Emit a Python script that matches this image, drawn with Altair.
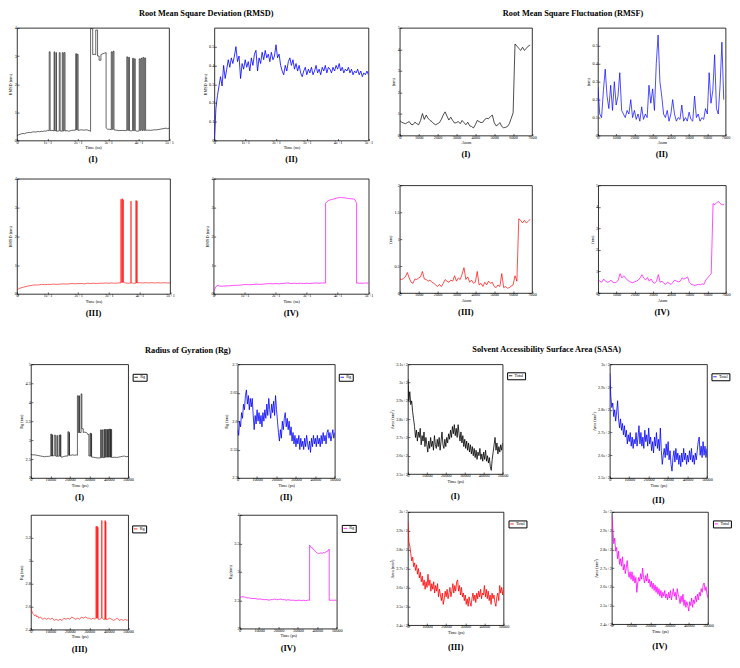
import altair as alt
import numpy as np
import pandas as pd

FONT = "Liberation Serif"
BLACK, BLUE, RED, MAGENTA = "#000000", "#0000ff", "#ff0000", "#ff00ff"

# ---------------- RMSD (time in ns, value in nm) ----------------
RMSD1 = [(0,0.18),(0.5,0.2),(1,0.22),(1.5,0.24),(2,0.25),(2.5,0.24),(3,0.27),(3.5,0.28),(4,0.29),(4.5,0.28),(5,0.3),(5.5,0.31),(6,0.3),(6.5,0.31),(7,0.32),(7.5,0.31),(8,0.33),(8.5,0.32),(9,0.34),(9.5,0.33),(10,0.36),(10.6,0.35),
(10.6,3.15),(10.9,3.15),(10.9,0.35),(11.5,0.36),(12.2,0.34),(12.2,3.15),(12.4,3.15),(12.4,0.35),(12.8,0.35),(12.8,3.12),(13.0,3.12),(13.0,0.33),(13.9,0.34),(13.9,3.12),(14.2,3.12),(14.2,0.34),(14.9,0.33),(14.9,3.12),(15.2,3.12),(15.2,0.34),(15.5,0.34),(15.5,3.12),(15.8,3.12),(15.8,0.34),(16.5,0.35),(17,0.33),(18,0.36),(19.3,0.37),(19.3,3.08),(19.6,3.08),(19.6,0.38),(19.8,0.38),(19.8,3.06),(20.1,3.06),(20.1,0.36),(21,0.38),(22,0.37),(23,0.38),(24.2,0.33),
(24.2,3.97),(24.9,3.97),(24.9,3.05),(25.5,3.06),(25.9,3.05),(25.9,3.92),(26.5,3.92),(26.5,3.0),(27.0,3.0),(27.0,2.85),(27.6,2.85),(27.6,3.05),(28.2,3.08),(28.8,3.1),(29.3,3.12),(29.3,0.45),(29.8,0.4),(30.5,0.4),(31.0,0.38),(31.0,3.15),(31.3,3.15),(31.3,0.4),(31.6,0.4),(31.6,3.17),(31.9,3.17),(31.9,0.38),(32.5,0.37),(33.5,0.35),(34.5,0.36),(35.5,0.35),
(36.1,0.36),(36.1,2.97),(36.4,2.97),(36.4,0.36),(36.7,0.36),(36.7,2.95),(37.0,2.95),(37.0,0.35),(37.5,0.34),(38.0,0.35),(38.0,2.92),(38.3,2.92),(38.3,0.35),(38.6,0.35),(38.6,2.9),(38.9,2.9),(38.9,0.35),(39.5,0.33),(40.2,0.34),(40.2,2.9),(40.5,2.9),(40.5,0.36),(40.8,0.36),(40.8,2.92),(41.1,2.92),(41.1,0.36),(41.4,0.36),(41.4,2.95),(41.7,2.95),(41.7,0.36),(42.0,0.36),(42.0,2.93),(42.3,2.93),(42.3,0.36),(43,0.37),(44,0.36),(45,0.38),(46,0.38),(47,0.4),(48,0.42),(49,0.44),(49.5,0.42),(50,0.44)]

RMSD2 = [0.00,0.17,0.24,0.29,0.34,0.29,0.40,0.33,0.38,0.43,
         0.39,0.44,0.41,0.45,0.50,0.42,0.45,0.33,0.41,0.38,
         0.43,0.39,0.42,0.37,0.44,0.40,0.46,0.48,0.37,0.44,
         0.41,0.47,0.43,0.48,0.44,0.46,0.42,0.47,0.43,0.45,
         0.51,0.44,0.46,0.40,0.37,0.35,0.40,0.37,0.42,0.44,
         0.40,0.43,0.38,0.41,0.37,0.40,0.36,0.34,0.37,0.39,
         0.35,0.38,0.36,0.39,0.35,0.37,0.40,0.36,0.38,0.35,
         0.39,0.37,0.40,0.36,0.39,0.38,0.36,0.39,0.37,0.40,
         0.38,0.41,0.37,0.39,0.36,0.38,0.37,0.39,0.36,0.38,
         0.35,0.37,0.36,0.38,0.35,0.37,0.34,0.36,0.35,0.37,
         0.35]

RMSD3 = [(0,0.12),(0.5,0.18),(1,0.2),(2,0.23),(3,0.26),(4,0.28),(5,0.3),(6,0.31),(7,0.31),(8,0.33),(9,0.32),(10,0.33),(11,0.33),(12,0.34),(13,0.33),(14,0.34),(15,0.35),(16,0.34),(17,0.35),(18,0.36),(19,0.35),(20,0.36),(21,0.36),(22,0.35),(23,0.37),(24,0.36),(25,0.37),(26,0.36),(27,0.37),(28,0.37),(29,0.38),(30,0.37),(31,0.38),(32,0.37),(33,0.38),
(33.9,0.38),(33.9,3.28),(34.1,3.28),(34.1,0.4),(34.3,0.4),(34.3,3.3),(34.5,3.3),(34.5,0.4),(34.6,0.4),(34.6,3.28),(34.8,3.26),(34.8,0.4),(35.5,0.38),(36.5,0.37),(37.2,0.38),(37.2,3.22),(37.3,3.22),(37.3,0.38),(38,0.37),(38.8,0.37),(38.8,3.24),(39.0,3.24),(39.0,0.38),(39.1,0.38),(39.1,3.22),(39.3,3.22),(39.3,0.38),
(40,0.39),(41,0.38),(42,0.39),(43,0.38),(44,0.39),(45,0.38),(46,0.39),(47,0.38),(48,0.39),(49,0.38),(50,0.38)]

RMSD4 = [(0,0.08),(0.5,0.2),(1,0.28),(1.5,0.3),(2,0.27),(3,0.27),(4,0.28),(5,0.28),(6,0.29),(7,0.3),(8,0.3),(9,0.31),(10,0.33),(11,0.32),(12,0.32),(13,0.33),(14,0.34),(15,0.33),(16,0.34),(17,0.35),(18,0.36),(19,0.35),(20,0.36),(21,0.35),(22,0.36),(23,0.37),(24,0.38),(25,0.36),(26,0.37),(27,0.36),(28,0.37),(29,0.36),(30,0.37),(31,0.36),(32,0.37),(33,0.38),(34,0.37),(35,0.38),
(36.1,0.38),(36.1,3.15),(36.5,3.2),(37,3.24),(37.5,3.26),(38,3.28),(38.5,3.29),(39,3.3),(39.5,3.32),(40,3.33),(40.5,3.35),(41,3.35),(41.5,3.34),(42,3.34),(42.5,3.33),(43,3.32),(43.5,3.31),(44,3.31),(44.5,3.3),(45,3.3),(45.5,3.28),(45.9,3.2),(46.1,3.15),
(46.1,0.37),(46.5,0.38),(47,0.37),(48,0.37),(49,0.38),(50,0.37)]

# ---------------- RMSF (atoms 0..6900 every 100, nm) ----------------
RMSF1 = [0.70,0.62,0.58,0.55,0.60,0.65,0.52,0.50,0.62,0.55,
         0.50,0.70,1.02,0.75,0.95,0.80,0.70,0.65,0.55,0.50,
         0.55,0.60,0.75,0.95,1.10,0.90,0.72,0.85,0.70,0.58,
         0.60,0.65,0.55,0.70,0.60,0.50,0.62,0.45,0.42,0.35,
         0.50,0.70,0.65,0.60,0.62,0.75,0.80,0.78,0.88,0.95,
         0.60,0.45,0.50,0.60,0.42,0.36,0.38,0.42,0.55,0.80,
         1.05,4.25,4.15,4.05,3.95,4.10,3.95,4.05,4.15,4.20]
RMSF2 = [0.27,0.12,0.10,0.25,0.37,0.22,0.15,0.28,0.14,0.30,
         0.17,0.22,0.35,0.14,0.12,0.10,0.14,0.12,0.20,0.10,
         0.14,0.09,0.12,0.08,0.16,0.09,0.12,0.10,0.28,0.18,
         0.26,0.14,0.40,0.56,0.30,0.22,0.12,0.10,0.14,0.08,
         0.12,0.20,0.12,0.08,0.10,0.09,0.17,0.08,0.10,0.08,
         0.13,0.09,0.08,0.22,0.10,0.12,0.08,0.10,0.09,0.15,
         0.12,0.35,0.18,0.25,0.45,0.15,0.12,0.28,0.52,0.20]
RMSF3 = [0.26,0.25,0.27,0.30,0.38,0.28,0.20,0.18,0.26,0.25,
         0.28,0.30,0.40,0.26,0.25,0.22,0.24,0.20,0.18,0.15,
         0.12,0.16,0.12,0.18,0.25,0.22,0.20,0.24,0.22,0.32,
         0.22,0.28,0.25,0.35,0.47,0.25,0.30,0.20,0.24,0.18,
         0.20,0.40,0.15,0.18,0.12,0.20,0.15,0.22,0.18,0.20,
         0.12,0.10,0.15,0.12,0.36,0.10,0.12,0.09,0.10,0.13,
         0.15,0.32,0.22,1.38,1.35,1.30,1.35,1.30,1.33,1.37]
RMSF4 = [0.60,0.55,0.50,0.65,0.55,0.50,0.52,0.60,0.50,0.48,
         0.50,0.60,0.90,0.70,0.80,0.70,0.60,0.55,0.50,0.48,
         0.52,0.55,0.60,0.70,0.85,0.70,0.60,0.72,0.55,0.65,
         0.50,0.45,0.55,0.85,0.50,0.55,0.45,0.40,0.50,0.45,
         0.40,0.50,0.60,0.55,0.52,0.55,0.70,0.65,0.68,0.75,
         0.50,0.40,0.38,0.35,0.38,0.40,0.38,0.42,0.40,0.60,
         0.70,0.80,0.90,4.15,4.10,4.20,4.25,4.15,4.10,4.10]

# ---------------- Rg (time in ps, nm) ----------------
RG1 = [(0,2.62),(1000,2.61),(2000,2.61),(3000,2.6),(4000,2.59),(5000,2.58),(6000,2.57),(7000,2.56),(8000,2.57),(9000,2.57),(10000,2.58),
(10200,2.58),(10200,3.16),(10600,3.16),(10600,2.58),(10900,2.58),(10900,3.14),(11100,3.14),(11100,2.58),(12000,2.59),(12000,3.13),(12600,3.13),(12600,2.58),(13300,2.57),(13300,3.12),(13700,3.12),(13700,2.57),(14500,2.58),(14500,3.13),(14900,3.13),(14900,2.57),(15100,2.57),(15100,3.14),(15400,3.14),(15400,2.56),
(16000,2.55),(17000,2.57),(18000,2.58),(19000,2.58),(19000,3.22),(19500,3.22),(19500,2.6),(19700,2.6),(19700,3.2),(19800,3.2),(19800,2.6),(20500,2.6),(21500,2.61),(22500,2.6),(23500,2.61),(23900,2.6),
(23900,4.17),(24400,4.17),(24400,3.2),(24800,3.2),(24800,4.17),(25000,4.17),(25000,3.2),(25800,3.2),(25800,4.22),(26200,4.22),(26200,3.3),(26900,3.3),(26900,3.2),(27500,3.21),(28500,3.2),(29000,3.18),(29200,3.15),(29800,3.15),(29800,2.58),
(30400,2.58),(30400,3.18),(30800,3.18),(30800,2.57),(31000,2.57),(31000,3.17),(31200,3.17),(31200,2.55),(32000,2.55),(33000,2.54),(34000,2.53),(35000,2.53),
(35800,2.53),(35800,3.27),(36200,3.27),(36200,2.54),(36600,2.54),(36600,3.27),(36900,3.27),(36900,2.54),(37500,2.54),(37500,3.28),(37900,3.28),(37900,2.54),(38100,2.54),(38100,3.28),(38400,3.28),(38400,2.55),(38900,2.55),(38900,3.28),(39300,3.28),(39300,2.55),(39500,2.55),(39500,3.28),(39800,3.28),(39800,2.55),
(40100,2.55),(40100,3.29),(40500,3.29),(40500,2.55),(40800,2.55),(40800,3.29),(41000,3.29),(41000,2.55),(41200,2.55),(41200,3.28),(41500,3.28),(41500,2.54),
(42000,2.54),(43000,2.55),(44000,2.54),(45000,2.55),(46000,2.56),(47000,2.57),(48000,2.58),(49000,2.56),(50000,2.57)]

RG2 = [2.585,2.575,2.600,2.590,2.615,2.605,2.630,2.620,2.645,2.655,
       2.630,2.645,2.620,2.640,2.625,2.640,2.610,2.585,2.610,2.595,
       2.620,2.600,2.615,2.595,2.610,2.590,2.615,2.600,2.620,2.605,
       2.630,2.610,2.640,2.620,2.605,2.630,2.615,2.635,2.610,2.645,
       2.620,2.600,2.580,2.565,2.585,2.570,2.600,2.585,2.605,2.615,
       2.590,2.605,2.585,2.600,2.575,2.590,2.565,2.580,2.560,2.575,
       2.555,2.570,2.560,2.575,2.550,2.570,2.555,2.565,2.550,2.570,
       2.555,2.575,2.560,2.550,2.565,2.545,2.570,2.555,2.575,2.560,
       2.570,2.555,2.575,2.560,2.570,2.555,2.575,2.560,2.580,2.565,
       2.575,2.560,2.580,2.585,2.570,2.580,2.565,2.575,2.585,2.570,
       2.580]

RG3 = [(0,2.59),(500,2.56),(1000,2.54),(1500,2.53),(2000,2.52),(2500,2.53),(3000,2.51),(3500,2.52),(4000,2.5),(5000,2.51),(6000,2.49),(7000,2.5),(8000,2.49),(9000,2.5),(10000,2.49),(11000,2.5),(12000,2.48),(13000,2.49),(14000,2.48),(15000,2.49),(16000,2.48),(17000,2.5),(18000,2.49),(19000,2.5),(20000,2.49),(21000,2.51),(22000,2.5),(23000,2.49),(24000,2.5),(25000,2.49),(26000,2.51),(27000,2.5),(28000,2.51),(29000,2.5),(30000,2.5),(31000,2.49),(32000,2.5),(33000,2.49),
(33400,2.5),(33400,3.3),(33700,3.3),(33700,2.5),(33900,2.5),(33900,3.3),(34200,3.3),(34200,2.5),(34300,2.5),(34300,3.29),(34600,3.29),(34600,2.49),(35500,2.49),(36300,2.5),(36300,3.35),(36600,3.35),(36600,2.5),(37300,2.49),(38000,2.49),(38000,3.35),(38300,3.35),(38300,2.49),(38400,2.49),(38400,3.34),(38600,3.34),(38600,2.49),
(39500,2.49),(40500,2.5),(41500,2.49),(42500,2.48),(43500,2.49),(44500,2.5),(45500,2.48),(46500,2.49),(47500,2.48),(48500,2.49),(49500,2.48),(50000,2.49)]

RG4 = [(0,2.55),(1000,2.56),(2000,2.56),(3000,2.55),(4000,2.54),(5000,2.54),(6000,2.53),(7000,2.53),(8000,2.53),(9000,2.52),(10000,2.52),(11000,2.52),(12000,2.51),(13000,2.51),(14000,2.51),(15000,2.5),(16000,2.51),(17000,2.51),(18000,2.52),(19000,2.51),(20000,2.51),(21000,2.52),(22000,2.51),(23000,2.51),(24000,2.5),(25000,2.51),(26000,2.5),(27000,2.5),(28000,2.5),(29000,2.49),(30000,2.5),(31000,2.5),(32000,2.49),(33000,2.5),(34000,2.49),(35000,2.5),
(36000,2.5),(36000,3.47),(36500,3.44),(37000,3.42),(37500,3.42),(38000,3.39),(38500,3.38),(39000,3.36),(39500,3.34),(40000,3.33),(40500,3.32),(41000,3.32),(41500,3.33),(42000,3.33),(42500,3.32),(43000,3.34),(43500,3.33),(44000,3.34),(44500,3.35),(45000,3.36),(45500,3.37),(46100,3.4),
(46100,2.5),(47000,2.5),(48000,2.5),(49000,2.5),(50000,2.5)]

# ---------------- SASA (time 0..50000 ps every 500, nm^2) ----------------
SASA1 = [302,290,295,288,290,284,280,276,270,274,
         268,273,270,275,266,271,268,273,265,270,
         266,262,268,264,270,265,268,263,271,266,
         264,269,265,270,263,268,273,266,264,269,
         265,270,267,272,269,274,270,276,272,277,
         271,275,270,277,272,268,273,267,271,265,
         269,264,268,263,267,262,266,261,265,260,
         264,259,263,258,262,260,264,258,261,257,
         262,258,263,257,260,256,259,254,252,258,
         262,266,270,263,267,261,265,262,266,263,
         267]
SASA2 = [296,286,281,283,277,280,275,279,284,276,
         272,276,271,274,269,273,268,271,265,269,
         266,270,264,268,263,267,265,270,264,268,
         273,265,270,264,268,263,271,266,269,264,
         272,265,268,262,266,261,268,264,270,263,
         267,262,272,262,256,260,263,259,265,260,
         266,258,262,256,253,259,262,257,263,258,
         261,256,260,255,261,257,263,258,261,256,
         260,257,262,258,263,257,260,256,261,258,
         262,266,268,260,264,259,266,260,264,259,
         263]
SASA3 = [295,284,282,278,274,276,271,273,269,272,
         267,270,265,268,263,266,261,264,259,263,
         260,267,261,264,258,262,259,263,257,261,
         258,262,255,259,256,253,257,251,254,258,
         255,259,254,257,260,255,258,262,257,261,
         258,263,264,258,261,256,260,255,257,253,
         256,251,254,250,255,252,250,254,257,253,
         256,252,257,254,258,255,259,254,257,256,
         261,255,259,254,258,253,256,251,257,254,
         256,252,250,255,257,253,261,257,260,256,
         260]
SASA4 = [298,291,283,286,279,281,275,279,272,275,
         271,276,269,272,267,270,274,268,265,268,
         264,268,263,266,262,265,257,262,265,263,
         267,264,270,265,262,266,263,267,262,264,
         260,263,259,262,258,261,257,260,256,259,
         255,258,254,257,255,258,254,256,253,257,
         254,258,253,256,259,255,257,253,259,256,
         254,251,255,252,256,250,253,249,252,250,
         247,252,250,254,249,253,251,255,252,256,
         253,257,255,259,257,261,262,258,260,256,
         254]

# ---------------- tick values ----------------
T_NS = [0, 10, 20, 30, 40, 50]
T_ATOM = [0, 1000, 2000, 3000, 4000, 5000, 6000, 7000]
T_PS = [0, 10000, 20000, 30000, 40000, 50000]


def pairs_df(pairs, name):
    return pd.DataFrame({"x": [p[0] for p in pairs], "y": [p[1] for p in pairs],
                         "i": list(range(len(pairs))), "s": name})


def grid_df(values, x0, x1, name):
    return pd.DataFrame({"x": np.linspace(x0, x1, len(values)), "y": values,
                         "i": list(range(len(values))), "s": name})


def axis(values, title, fmt, pad):
    return alt.Axis(values=values, title=title, format=fmt, grid=False, domain=False,
                    tickSize=alt.ExprRef(expr="-2"), tickWidth=0.6, tickColor="black",
                    labelPadding=pad, labelFont=FONT, labelFontSize=4.3, labelColor="black",
                    labelFlush=False, labelOverlap=False,
                    titleFont=FONT, titleFontSize=4.3, titleFontWeight="normal",
                    titleColor="black", titlePadding=1.5)


def panel(df, color, xd, xt, xtitle, yd, yt, ytitle, w, h, label, loff, legend=None, sw=0.8):
    xfmt = "~g" if xd[1] <= 100 else "d"
    enc = {
        "x": alt.X("x:Q", scale=alt.Scale(domain=xd, nice=False, zero=False), axis=axis(xt, xtitle, xfmt, 1.5)),
        "y": alt.Y("y:Q", scale=alt.Scale(domain=yd, nice=False, zero=False), axis=axis(yt, ytitle, "~g", 2.5)),
        "order": alt.Order("i:Q"),
    }
    if legend is not None:
        lx, ly = legend
        enc["color"] = alt.Color("s:N", scale=alt.Scale(range=[color]),
                                 legend=alt.Legend(title=None, orient="none", legendX=w + lx, legendY=ly,
                                                   symbolType="stroke", symbolSize=12, symbolStrokeWidth=0.8,
                                                   labelFont=FONT, labelFontSize=4.3, labelColor="black",
                                                   labelOffset=1.5, padding=1, strokeColor="black",
                                                   fillColor="white", cornerRadius=0, rowPadding=0))
        base = alt.Chart(df).mark_line(strokeWidth=sw, clip=True)
    else:
        base = alt.Chart(df).mark_line(strokeWidth=sw, color=color, clip=True)
    return base.encode(**enc).properties(
        width=w, height=h,
        title=alt.TitleParams(label, orient="bottom", anchor="middle", font=FONT, fontSize=8.5,
                              fontWeight="bold", color="black", offset=loff))


def gtitle(text, dx, off):
    return alt.TitleParams(text, font=FONT, fontSize=8.3, fontWeight="bold", color="black",
                           anchor="middle", offset=off, dx=dx)


# RMSD panels
R1 = panel(pairs_df(RMSD1, "a"), BLACK, [0, 50], T_NS, "Time (ns)", [0, 4], [0, 1, 2, 3, 4], "RMSD (nm)", 152.5, 113, "(I)", 5, sw=0.6)
R2 = panel(grid_df(RMSD2, 0, 50, "a"), BLUE, [0, 50], T_NS, "Time (ns)", [0, 0.6], [0, 0.1, 0.2, 0.3, 0.4, 0.5], "RMSD (nm)", 154.5, 113, "(II)", 5)
R3 = panel(pairs_df(RMSD3, "a"), RED, [0, 50], T_NS, "Time (ns)", [0, 4], [0, 1, 2, 3, 4], "RMSD (nm)", 153.5, 115.5, "(III)", 5.5, sw=0.6)
R4 = panel(pairs_df(RMSD4, "a"), MAGENTA, [0, 50], T_NS, "Time (ns)", [0, 4], [0, 1, 2, 3, 4], "RMSD (nm)", 155.5, 115.5, "(IV)", 5.5, sw=0.7)

# RMSF panels
F1 = panel(grid_df(RMSF1, 0, 6900, "a"), BLACK, [0, 7000], T_ATOM, "Atom", [0, 5], [0, 1, 2, 3, 4, 5], "(nm)", 132.6, 108, "(I)", 5, sw=0.7)
F2 = panel(grid_df(RMSF2, 0, 6900, "a"), BLUE, [0, 7000], T_ATOM, "Atom", [0, 0.6], [0, 0.1, 0.2, 0.3, 0.4, 0.5], "(nm)", 128, 108, "(II)", 5, sw=0.7)
F3 = panel(grid_df(RMSF3, 0, 6900, "a"), RED, [0, 7000], T_ATOM, "Atom", [0, 2], [0, 0.5, 1, 1.5, 2], "(nm)", 132.6, 108, "(III)", 5.5, sw=0.7)
F4 = panel(grid_df(RMSF4, 0, 6900, "a"), MAGENTA, [0, 7000], T_ATOM, "Atom", [0, 5], [0, 1, 2, 3, 4, 5], "(nm)", 128, 108, "(IV)", 5.5, sw=0.7)

# Rg panels
G1 = panel(pairs_df(RG1, "Rg"), BLACK, [0, 50000], T_PS, "Time (ps)", [2, 5], [2, 2.5, 3, 3.5, 4, 4.5, 5], "Rg (nm)", 97.5, 114, "(I)", 5, (4.5, 9.5), sw=0.6)
G2 = panel(grid_df(RG2, 0, 50000, "Rg"), BLUE, [0, 50000], T_PS, "Time (ps)", [2.5, 2.7], [2.5, 2.55, 2.6, 2.65, 2.7], "Rg (nm)", 97.4, 114, "(II)", 5, (4, 9.5))
G3 = panel(pairs_df(RG3, "Rg"), RED, [0, 50000], T_PS, "Time (ps)", [2.4, 3.4], [2.4, 2.6, 2.8, 3, 3.2], "Rg (nm)", 97.5, 115, "(III)", 5.5, (4, 10.5), sw=0.6)
G4 = panel(pairs_df(RG4, "Rg"), MAGENTA, [0, 50000], T_PS, "Time (ps)", [2, 4], [2, 2.5, 3, 3.5, 4], "Rg (nm)", 97.4, 114, "(IV)", 5.5, (5, 10), sw=0.7)

# SASA panels
S1 = panel(grid_df(SASA1, 0, 50000, "Total"), BLACK, [0, 50000], T_PS, "Time (ps)", [250, 310], [250, 260, 270, 280, 290, 300, 310], "Area (nm²)", 95, 110, "(I)", 8.5, (4.5, 8))
S2 = panel(grid_df(SASA2, 0, 50000, "Total"), BLUE, [0, 50000], T_PS, "Time (ps)", [250, 300], [250, 260, 270, 280, 290, 300], "Area (nm²)", 97.4, 114, "(II)", 8.5, (4.5, 9))
S3 = panel(grid_df(SASA3, 0, 50000, "Total"), RED, [0, 50000], T_PS, "Time (ps)", [240, 300], [240, 250, 260, 270, 280, 290, 300], "Area (nm²)", 95.9, 113.5, "(III)", 8, (5, 8.5))
S4 = panel(grid_df(SASA4, 0, 50000, "Total"), MAGENTA, [0, 50000], T_PS, "Time (ps)", [240, 300], [240, 250, 260, 270, 280, 290, 300], "Area (nm²)", 96.4, 112.5, "(IV)", 8, (5, 8.5))


def ind(c):
    return c.resolve_scale(color="independent")


rmsd = ind(alt.vconcat(ind(alt.hconcat(R1, R2, spacing=27.95)), ind(alt.hconcat(R3, R4, spacing=29.2)),
                       spacing=11.3, title=gtitle("Root Mean Square Deviation (RMSD)", 15.3, 8)))
rmsf = ind(alt.vconcat(ind(alt.hconcat(F1, F2, spacing=48.7)), ind(alt.hconcat(F3, F4, spacing=51.95)),
                       spacing=22.9, title=gtitle("Root Mean Square Fluctuation (RMSF)", 13.8, 8)))
rg = ind(alt.vconcat(ind(alt.hconcat(G1, G2, spacing=76.3)), ind(alt.hconcat(G3, G4, spacing=80.3)),
                     spacing=10.05, title=gtitle("Radius of Gyration (Rg)", 0, 7.4)))
sasa = ind(alt.vconcat(ind(alt.hconcat(S1, S2, spacing=64.5)), ind(alt.hconcat(S3, S4, spacing=65.5)),
                       spacing=4.05, title=gtitle("Solvent Accessibility Surface Area (SASA)", -14.1, 8.7)))

spacer = alt.Chart(pd.DataFrame({"v": [0]})).mark_point(size=1, opacity=0).encode(
    x=alt.value(1.5), y=alt.value(0)).properties(width=2, height=1, view=alt.ViewBackground(strokeOpacity=0))

top_half = ind(alt.hconcat(rmsd, rmsf, spacing=13.85))
bottom_half = ind(alt.hconcat(spacer, ind(alt.hconcat(rg, sasa, spacing=32.0)), spacing=0))

chart = ind(alt.vconcat(top_half, bottom_half, spacing=26.4)).properties(
    padding=0, background="white"
).configure_view(stroke="black", strokeWidth=0.8)

chart.save("out.html", embed_options={"renderer": "svg", "actions": False})
